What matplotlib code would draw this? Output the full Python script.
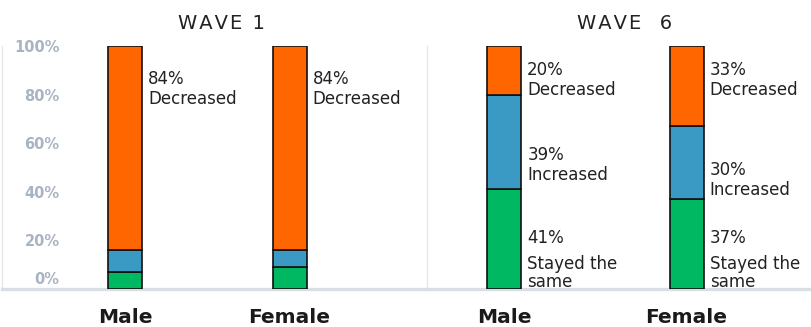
import matplotlib
matplotlib.use("Agg")
import matplotlib.pyplot as plt
from matplotlib.transforms import ScaledTranslation

# data
waves = ["WAVE 1", "WAVE  6"]
genders = ["Male", "Female"]
stayed = [[7, 9], [41, 37]]
increased = [[9, 7], [39, 30]]
decreased = [[84, 84], [20, 33]]
yticks = [0, 20, 40, 60, 80, 100]

c_green = "#00B862"
c_blue = "#3A9AC4"
c_orange = "#FF6600"
grey_line = "#D8DEE4"
tick_grey = "#A9B4C2"
txt = "#222222"

fig = plt.figure(figsize=(8.11, 3.27), dpi=100)
W, H = 811, 327
bot = 1 - 289 / H
hgt = 243 / H

# px layout of the two panels: (left, right, first bar centre, spacing)
panels = [(2, 427, 125, 164.5), (427, 811, 504, 182.5)]

# label layout: top of pct text (in %)
lab_pos = [
    [[None, None, 90], [None, None, 90]],
    [[24.7, 59, 94], [24.7, 52.7, 94]],
]

for w, (x0, x1, c0, sp) in enumerate(panels):
    ax = fig.add_axes([x0 / W, bot, (x1 - x0) / W, hgt])
    bw = 34 / sp
    xs = [0, 1]
    s = stayed[w]
    inc = increased[w]
    dec = decreased[w]
    b2 = [a + b for a, b in zip(s, inc)]
    ax.bar(xs, s, bw, color=c_green, edgecolor="#111111", linewidth=1.2, zorder=3)
    ax.bar(xs, inc, bw, bottom=s, color=c_blue, edgecolor="#111111", linewidth=1.2, zorder=3)
    ax.bar(xs, dec, bw, bottom=b2, color=c_orange, edgecolor="#111111", linewidth=1.2, zorder=3)

    ax.set_xlim(-(c0 - x0) / sp, 1 + (x1 - (c0 + sp)) / sp)
    ax.set_ylim(0, 100)

    for sname in ["top", "right"]:
        ax.spines[sname].set_visible(False)
    ax.spines["bottom"].set_color(grey_line)
    ax.spines["bottom"].set_linewidth(2.4)
    ax.spines["left"].set_color("#E3E8EC")
    ax.spines["left"].set_linewidth(1)

    ax.set_xticks(xs)
    ax.set_xticklabels(genders, fontsize=14.5, fontweight="bold", color="#1a1a1a")
    ax.tick_params(axis="x", length=0, pad=14)

    if w == 0:
        ax.set_yticks(yticks)
        ax.set_yticklabels([f"{t}%" for t in yticks], fontsize=10.5,
                           fontweight="bold", color=tick_grey)
        ax.tick_params(axis="y", length=0, pad=-41.5)
        lab0 = ax.get_yticklabels()[0]
        lab0.set_transform(lab0.get_transform() + ScaledTranslation(0, 8 / 72, fig.dpi_scale_trans))
    else:
        ax.set_yticks([])

    ax.set_title("\u200a".join(waves[w]), fontsize=14, color=txt, pad=12,
                 x=((221.5 if w == 0 else 625) - x0) / (x1 - x0))

    for i in xs:
        segs = [(s[i], "Stayed the\nsame", 18.5), (inc[i], "Increased", 14.4),
                (dec[i], "Decreased", 14.4)]
        for k, (v, name, gap) in enumerate(segs):
            yp = lab_pos[w][i][k]
            if yp is None:
                continue
            xr = i + bw / 2
            ax.annotate(f"{v}%", (xr, yp), xytext=(4.5, 0), textcoords="offset points",
                        ha="left", va="top", fontsize=12, color=txt)
            ax.annotate(name, (xr, yp), xytext=(4.5, -gap), textcoords="offset points",
                        ha="left", va="top", fontsize=12, color=txt, linespacing=1.0)

fig.savefig("out.png", dpi=100)
